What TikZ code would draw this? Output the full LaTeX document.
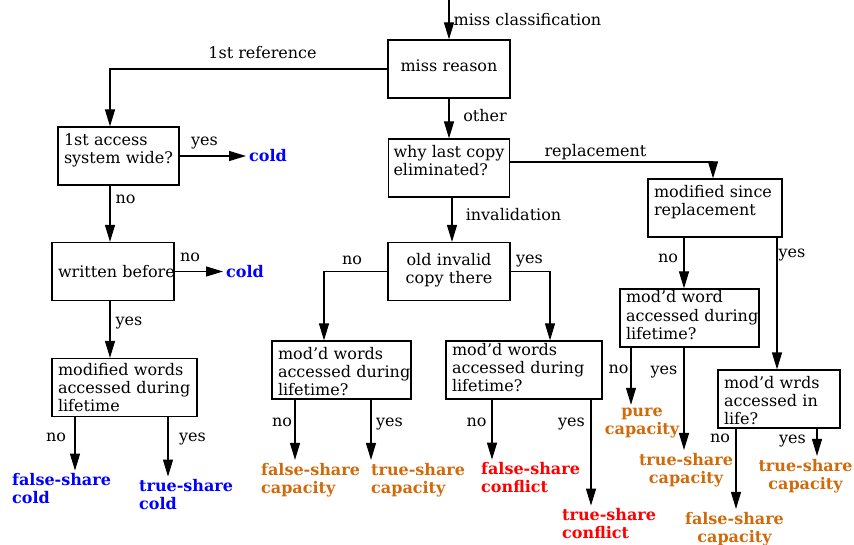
\documentclass[tikz,border=0pt]{standalone}
\usepackage{fontspec}
\setmainfont{DejaVu Serif}
\usetikzlibrary{arrows.meta}
\definecolor{coldblue}{RGB}{0,0,255}
\definecolor{capbrown}{RGB}{208,106,10}
\definecolor{confred}{RGB}{255,0,0}
\hyphenpenalty=10000

\begin{document}
\begin{tikzpicture}[x=1pt, y=-1pt,
    every node/.style={font=\fontsize{16}{18}\selectfont},
    box/.style={draw, line width=1.2pt, minimum height=58pt, inner xsep=6pt, inner ysep=0pt, text height=12pt, align=left},
    lbl/.style={text height=14pt, text depth=1.5pt, inner sep=0pt},
    res/.style={font=\fontsize{16}{18}\selectfont\bfseries, inner sep=3pt, align=left, anchor=west},
    arr/.style={line width=1.2pt, -{Triangle[length=17pt, width=10pt]}}]
  \useasboundingbox (0,0) rectangle (854,545);

  % Riquadri
  \node[box, align=center, text width=110pt, text depth=7.6pt] (reason) at (449,69) {miss reason};
  \node[box, text width=109pt, text depth=33.6pt] (first) at (118.5,156) {1st access\\system~wide?};
  \node[box, text width=110pt, text depth=0pt] (written) at (113,271.5) {written~before};
  \node[box, text width=133pt, text depth=35.6pt] (modwords) at (124.5,387.5) {modified~words\\accessed~during\\lifetime};
  \node[box, text width=111pt, text depth=33.6pt, inner xsep=5pt] (why) at (449,168) {why~last~copy\\eliminated?};
  \node[box, align=center, text width=110pt, text depth=23.6pt] (old) at (449,271.5) {old~invalid\\copy~there};
  \node[box, text width=127pt, text depth=33.6pt] (mwleft) at (341.5,370) {mod'd~words\\accessed~during\\lifetime?};
  \node[box, text width=144pt, text depth=42pt] (mwmid) at (524,370) {mod'd~words\\accessed~during\\lifetime?};
  \node[box, text width=122pt, text depth=33.6pt] (modsince) at (715,208) {modified~since\\replacement};
  \node[box, text width=127pt, text depth=42pt] (mwrep) at (689.5,318) {mod'd~word\\accessed~during\\lifetime?};
  \node[box, text width=110pt, text depth=33.6pt] (mwrds) at (779,399) {mod'd~wrds\\accessed~in\\life?};

  % Risultati
  \node[res, coldblue] (cold1) at (246,156) {cold};
  \node[res, coldblue] (cold2) at (223,272) {cold};
  \node[res, coldblue] (fscold) at (9,489) {false-share\\cold};
  \node[res, coldblue] (tscold) at (136,495) {true-share\\cold};
  \node[res, capbrown] (fscap1) at (258,480) {false-share\\capacity};
  \node[res, capbrown] (tscap1) at (368,480) {true-share\\capacity};
  \node[res, confred] (fsconf) at (478,478) {false-share\\conflict};
  \node[res, confred] (tsconf) at (559,524) {true-share\\conflict};
  \node[res, capbrown, anchor=center, align=center] (purecap) at (642,423) {pure\\capacity};
  \node[res, capbrown, anchor=center, align=center] (tscap2) at (686,470) {true-share\\capacity};
  \node[res, capbrown, anchor=center, align=center] (fscap2) at (734.5,529) {false-share\\capacity};
  \node[res, capbrown, anchor=center, align=center] (tscap3) at (805.5,476) {true-share\\capacity};

  % Collegamenti
  \coordinate (start) at (449,0);
  \draw[arr] (start) -- (reason.north);
  \draw[arr] (reason.west) -| ([xshift=-8.5pt]first.north);
  \draw[arr] (reason.south) -- (why.north);
  \draw[arr] (first.east) -- (first.east -| cold1.west);
  \draw[arr] ([xshift=-8.5pt]first.south) -- ([xshift=-8.5pt]first.south |- written.north);
  \draw[arr] (written.east) -- (written.east -| cold2.west);
  \draw[arr] ([xshift=-3pt]written.south) -- ([xshift=-3pt]written.south |- modwords.north);
  \draw[arr] ([xshift=-49.5pt]modwords.south) -- ([xshift=-49.5pt]modwords.south |- fscold.north);
  \draw[arr] ([xshift=43.5pt]modwords.south) -- ([xshift=43.5pt]modwords.south |- tscold.north);
  \draw[arr] ([xshift=3pt]why.south) -- ([xshift=3pt]why.south |- old.north);
  \draw[arr] ([yshift=6pt]why.east) -| ([xshift=-2pt]modsince.north);
  \draw[arr] (old.west) -| ([xshift=-17.5pt]mwleft.north);
  \draw[arr] (old.east) -| ([xshift=26pt]mwmid.north);
  \draw[arr] ([xshift=-46.5pt]mwleft.south) -- ([xshift=-46.5pt]mwleft.south |- fscap1.north);
  \draw[arr] ([xshift=29.5pt]mwleft.south) -- ([xshift=29.5pt]mwleft.south |- tscap1.north);
  \draw[arr] ([xshift=-32pt]mwmid.south) -- ([xshift=-32pt]mwmid.south |- fsconf.north);
  \draw[arr] ([xshift=67pt]mwmid.south) -- ([xshift=67pt]mwmid.south |- tsconf.north);
  \draw[arr] ([xshift=-31pt]modsince.south) -- ([xshift=-31pt]modsince.south |- mwrep.north);
  \draw[arr] ([xshift=62pt]modsince.south) -- ([xshift=62pt]modsince.south |- mwrds.north);
  \draw[arr] ([xshift=-58.5pt]mwrep.south) -- ([xshift=-58.5pt]mwrep.south |- purecap.north);
  \draw[arr] ([xshift=-5.5pt]mwrep.south) -- ([xshift=-5.5pt]mwrep.south |- tscap2.north);
  \draw[arr] ([xshift=-43pt]mwrds.south) -- ([xshift=-43pt]mwrds.south |- fscap2.north);
  \draw[arr] ([xshift=38pt]mwrds.south) -- ([xshift=38pt]mwrds.south |- tscap3.north);

  % Etichette
  \node[lbl] (lmiss) at (527.5,19) {miss classification};
  \node[lbl] (lfirst) at (262.5,52) {1st reference};
  \node[lbl] (lother) at (485,115) {other};
  \node[lbl] (lrepl) at (595.5,150) {replacement};
  \node[lbl] (linval) at (513.5,214) {invalidation};
  \node[lbl] (lyes1) at (204.5,139) {yes};
  \node[lbl] (lno1) at (125.5,197) {no};
  \node[lbl] (lno2) at (190,255) {no};
  \node[lbl] (lyes2) at (129,319) {yes};
  \node[lbl] (lno3) at (56,435) {no};
  \node[lbl] (lyes3) at (192.5,435) {yes};
  \node[lbl] (lno4) at (352,258) {no};
  \node[lbl] (lyes4) at (529.5,257) {yes};
  \node[lbl] (lno5) at (282,420) {no};
  \node[lbl] (lyes5) at (389.5,420) {yes};
  \node[lbl] (lno6) at (476.5,420) {no};
  \node[lbl] (lyes6) at (571.5,420) {yes};
  \node[lbl] (lno7) at (668,256) {no};
  \node[lbl] (lyes7) at (792,251) {yes};
  \node[lbl] (lno8) at (618.5,367) {no};
  \node[lbl] (lyes8) at (664,368) {yes};
  \node[lbl] (lno9) at (720,436) {no};
  \node[lbl] (lyes9) at (792.5,437) {yes};
\end{tikzpicture}
\end{document}
